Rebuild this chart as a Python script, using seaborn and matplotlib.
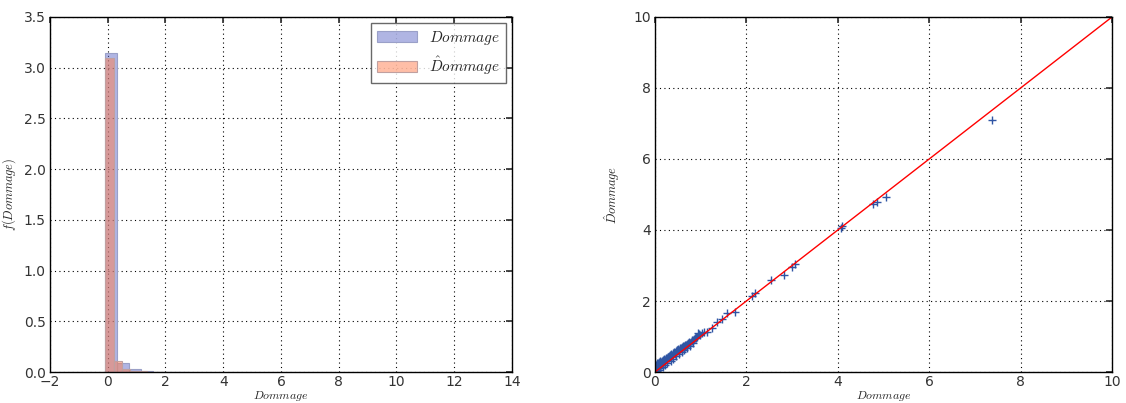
import numpy as np
import pandas as pd
import matplotlib
matplotlib.use("Agg")
import matplotlib.pyplot as plt
import seaborn as sns

# Histogram bins (density heights)
blue_edges = [-0.09, 0.32, 0.73, 1.14, 1.55, 1.96, 2.37, 2.78]
blue_heights = [3.14, 0.09, 0.025, 0.01, 0.005, 0.004, 0.003]
orange_edges = [-0.09, 0.20, 0.49, 0.78, 1.07, 1.36, 1.65, 1.94]
orange_heights = [3.10, 0.11, 0.03, 0.012, 0.006, 0.004, 0.003]

# Scatter of observed vs predicted damage (right panel)
dommage = [0.00, 0.01, 0.02, 0.03, 0.04, 0.05, 0.06, 0.07, 0.08, 0.09,
           0.10, 0.11, 0.12, 0.13, 0.15, 0.16, 0.18, 0.20, 0.21, 0.23,
           0.25, 0.26, 0.28, 0.30, 0.31, 0.33, 0.35, 0.37, 0.39, 0.41,
           0.43, 0.45, 0.47, 0.49, 0.51, 0.53, 0.55, 0.57, 0.59, 0.61,
           0.63, 0.65, 0.67, 0.69, 0.71, 0.73, 0.75, 0.77, 0.80, 0.82,
           0.84, 0.86, 0.88, 0.90, 0.93, 0.95, 0.96, 0.99, 1.03, 1.08,
           1.13, 1.24, 1.35, 1.46, 1.57, 1.75, 2.13, 2.19, 2.54, 2.83,
           2.99, 3.07, 4.07, 4.10, 4.77, 4.85, 5.05, 7.37,
           0.02, 0.05, 0.08, 0.12, 0.17, 0.22, 0.27, 0.34, 0.40, 0.46,
           0.52, 0.58, 0.64, 0.70, 0.76, 0.83, 0.01, 0.04, 0.07, 0.10,
           0.14, 0.19, 0.24, 0.29, 0.36, 0.42, 0.48, 0.54, 0.60, 0.66]
dommage_hat = [0.05, 0.12, 0.18, 0.08, 0.22, 0.15, 0.25, 0.12, 0.20, 0.27,
               0.18, 0.26, 0.30, 0.22, 0.31, 0.26, 0.33, 0.36, 0.30, 0.38,
               0.40, 0.34, 0.43, 0.45, 0.39, 0.48, 0.50, 0.46, 0.54, 0.55,
               0.52, 0.59, 0.57, 0.62, 0.64, 0.60, 0.67, 0.69, 0.66, 0.72,
               0.74, 0.71, 0.77, 0.78, 0.76, 0.82, 0.84, 0.82, 0.88, 0.89,
               0.90, 0.94, 0.95, 0.96, 1.00, 1.10, 1.06, 1.05, 1.10, 1.12,
               1.13, 1.25, 1.41, 1.50, 1.67, 1.69, 2.13, 2.23, 2.58, 2.74,
               2.96, 3.05, 4.05, 4.10, 4.73, 4.80, 4.92, 7.10,
               0.02, 0.03, 0.06, 0.10, 0.15, 0.20, 0.25, 0.32, 0.38, 0.44,
               0.50, 0.56, 0.62, 0.68, 0.74, 0.81, 0.20, 0.24, 0.10, 0.14,
               0.28, 0.33, 0.36, 0.42, 0.49, 0.54, 0.61, 0.66, 0.71, 0.77]
line_x = [0, 10]
line_y = [0, 10]

sns.set_theme(style="white")
plt.rcParams.update({
    "font.family": ["DejaVu Sans"],
    "mathtext.fontset": "cm",
    "axes.edgecolor": "black",
    "axes.linewidth": 1.0,
    "xtick.direction": "in",
    "ytick.direction": "in",
    "xtick.top": True,
    "ytick.right": True,
    "xtick.major.size": 4,
    "ytick.major.size": 4,
    "xtick.major.pad": 2,
    "ytick.major.pad": 3,
    "xtick.color": "#333333",
    "ytick.color": "#333333",
    "xtick.labelsize": 10,
    "ytick.labelsize": 10,
})

fig = plt.figure(figsize=(11.26, 4.03), dpi=100)
ax1 = fig.add_axes([0.0444, 0.0769, 0.4103, 0.881])
ax2 = fig.add_axes([0.5817, 0.0769, 0.4059, 0.881])

grid_style = dict(linestyle=(0, (1, 3)), color="black", linewidth=0.8)

# Left: overlaid histograms
blue_centers = [(a + b) / 2 for a, b in zip(blue_edges[:-1], blue_edges[1:])]
orange_centers = [(a + b) / 2 for a, b in zip(orange_edges[:-1], orange_edges[1:])]
sns.histplot(x=blue_centers, weights=blue_heights, bins=blue_edges, ax=ax1,
             color="#626cc8", alpha=0.5, edgecolor="#9aa0c8", linewidth=0.8,
             label=r"$Dommage$")
sns.histplot(x=orange_centers, weights=orange_heights, bins=orange_edges, ax=ax1,
             color="#ff7f50", alpha=0.5, edgecolor="#c0a0a0", linewidth=0.8,
             label=r"$\hat{D}ommage$")
ax1.set_xlim(-2, 14)
ax1.set_ylim(0, 3.5)
ax1.set_xticks(np.arange(-2, 15, 2))
ax1.set_yticks(np.arange(0, 3.6, 0.5))
ax1.set_xlabel(r"$Dommage$", fontsize=8.5)
ax1.set_ylabel(r"$f(Dommage)$", fontsize=9, labelpad=4)
ax1.grid(True, **grid_style)
leg = ax1.legend(loc="upper right", fontsize=11, frameon=True, fancybox=False,
                 handlelength=2.6, borderpad=0.4, labelspacing=0.5,
                 borderaxespad=0.4)
leg.get_frame().set_edgecolor("#444444")

# Right: predicted vs observed
sns.lineplot(x=line_x, y=line_y, ax=ax2, color="red", linewidth=1.0)
sns.scatterplot(x=dommage, y=dommage_hat, ax=ax2, marker="+", s=35,
                color="#2f55a4", linewidth=1.0)
ax2.set_xlim(0, 10)
ax2.set_ylim(0, 10)
ax2.set_xticks(np.arange(0, 11, 2))
ax2.set_yticks(np.arange(0, 11, 2))
ax2.set_xlabel(r"$Dommage$", fontsize=8.5)
ax2.set_ylabel(r"$\hat{D}ommage$", fontsize=9, labelpad=8)
ax2.grid(True, **grid_style)

for ax in (ax1, ax2):
    ax.xaxis.set_label_coords(0.5, -0.047)
    for s in ax.spines.values():
        s.set_visible(True)
        s.set_color("black")

fig.savefig("out.png", dpi=100)
